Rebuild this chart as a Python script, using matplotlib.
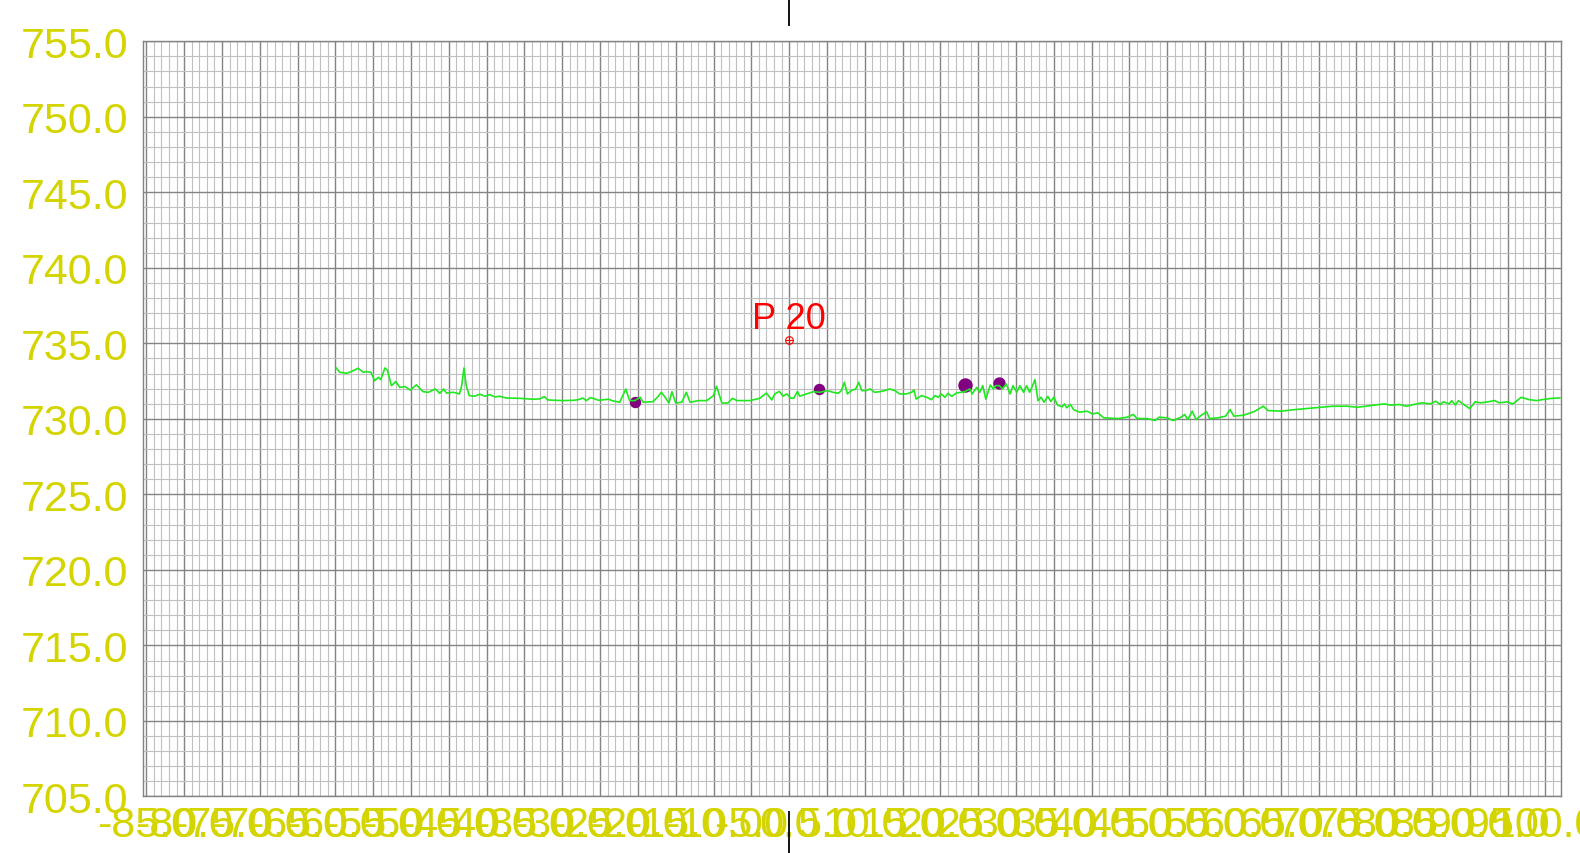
import matplotlib.pyplot as plt
from matplotlib.ticker import MultipleLocator, FormatStrFormatter

# ground profile: station offset (m) and elevation (m)
stations = [
    -59.9, -59.4, -58.5, -57.9, -57.0, -56.3, -55.9, -55.3, -54.8, -54.3, -54.0, -53.45, -53.1,
    -52.6, -52.0, -51.5, -50.8, -50.1, -49.3, -48.4, -47.7, -46.8, -46.2, -45.7, -45.3, -44.4,
    -43.6, -43.3, -43.0, -42.7, -42.3, -41.6, -40.9, -40.2, -39.6, -38.9, -38.3, -37.4, -35.6,
    -33.9, -33.0, -32.4, -31.9, -29.9, -28.5, -27.9, -27.3, -26.8, -26.3, -25.7, -25.2, -24.8,
    -23.9, -23.3, -22.4, -21.6, -21.1, -20.4, -19.7, -19.3, -18.0, -17.3, -16.9, -16.4, -15.9,
    -15.5, -15.0, -14.2, -13.6, -13.1, -12.0, -10.9, -10.0, -9.6, -8.9, -8.1, -7.5, -6.9, -6.1,
    -5.2, -3.9, -3.0, -2.3, -1.9, -1.3, -0.8, -0.3, 0.2, 0.6, 1.1, 1.4,
    2.3, 3.2, 4.1, 5.0, 5.8, 6.5, 6.9, 7.3, 7.7, 8.2, 8.8, 9.2, 9.6, 10.1, 10.7, 11.3, 12.0,
    12.6, 13.3, 14.0, 14.6, 15.5, 16.2, 16.5, 16.8, 17.5, 18.2, 18.8, 19.3, 19.7, 20.1, 20.6,
    21.0, 21.5, 22.1, 23.2, 23.9, 24.2, 24.8, 25.2, 25.6, 26.0, 26.6, 27.0, 27.3, 27.8,
    28.2, 28.7, 29.2, 29.6, 30.1, 30.5, 31.0, 31.4, 31.8, 32.1, 32.5, 32.9, 33.3, 33.7, 34.2,
    34.6, 35.0, 35.5, 36.1, 36.4, 36.7, 37.2, 37.6, 38.4, 39.4, 40.1, 40.8, 41.6, 43.5, 44.7,
    45.5, 46.0, 47.4, 48.4, 48.9, 49.9, 50.8, 51.8, 52.3, 52.7, 53.3, 53.8, 54.5, 55.2, 55.6,
    56.7, 57.7, 58.3, 58.8, 60.1, 61.6, 62.7, 63.3, 65.0, 67.0, 69.4, 71.9, 73.8, 75.1, 76.3,
    77.3, 78.7, 79.5, 80.7, 81.6, 82.6, 83.6, 84.8, 85.5, 86.1, 86.5, 87.3, 87.6, 88.1, 88.5,
    89.2, 90.0, 90.7, 91.4, 92.4, 93.3, 93.9, 94.9, 95.7, 96.8, 97.8, 98.8, 99.7, 100.7, 101.9,
]
elevations = [
    733.37, 733.08, 733.02, 733.13, 733.35, 733.08, 733.13, 733.08, 732.53, 732.75, 732.6, 733.37, 733.2,
    732.2, 732.47, 732.09, 732.13, 731.91, 732.25, 731.8, 731.76, 731.98, 731.69, 731.98, 731.71, 731.76,
    731.65, 732.2, 733.37, 732.2, 731.54, 731.5, 731.63, 731.5, 731.6, 731.45, 731.5, 731.38, 731.36,
    731.3, 731.32, 731.47, 731.25, 731.21, 731.23, 731.27, 731.38, 731.21, 731.41, 731.32, 731.23, 731.25,
    731.3, 731.19, 731.1, 731.98, 731.21, 731.21, 731.43, 731.1, 731.14, 731.5, 731.76, 731.43, 731.05,
    731.8, 731.05, 731.1, 731.76, 731.1, 731.21, 731.21, 731.54, 732.16, 731.05, 731.05, 731.36, 731.21, 731.21,
    731.21, 731.36, 731.71, 731.25, 731.65, 731.82, 731.5, 731.65, 731.38, 731.36, 731.82, 731.5,
    731.65, 731.8, 731.76, 731.87, 731.76, 731.69, 731.87, 732.42, 731.65, 731.87, 731.98, 732.42, 731.87, 731.87, 731.98, 731.76, 731.8,
    731.87, 731.98, 731.87, 731.65, 731.65, 731.76, 731.91, 731.31, 731.54, 731.43, 731.27, 731.54, 731.43, 731.65, 731.43,
    731.69, 731.49, 731.71, 731.8, 731.98, 731.65, 732.09, 731.76, 732.2, 731.31, 732.24, 731.98, 732.2, 732.2,
    731.98, 732.31, 731.65, 732.2, 731.76, 732.2, 731.76, 732.2, 731.76, 732.1, 732.6, 731.2, 731.43, 731.1, 731.49,
    731.15, 731.43, 730.9, 730.8, 730.99, 730.73, 730.95, 730.62, 730.44, 730.51, 730.33, 730.4, 730.07, 730.02, 730.11,
    730.29, 730.02, 730.02, 729.89, 730.11, 730.07, 729.89, 730.11, 730.29, 729.96, 730.51, 729.96, 730.24, 730.46, 730.02,
    730.07, 730.18, 730.62, 730.18, 730.24, 730.51, 730.84, 730.55, 730.51, 730.62, 730.73, 730.84, 730.84, 730.77, 730.84,
    730.91, 730.99, 730.91, 730.95, 730.84, 730.95, 731.06, 730.99, 731.17, 730.95, 731.13, 730.99, 731.21, 730.91, 731.21,
    730.95, 730.68, 731.13, 731.06, 731.13, 731.21, 731.06, 731.13, 730.99, 731.43, 731.28, 731.21, 731.28, 731.35, 731.39,
]

# surveyed points on the profile
point_x = [-20.4, 4.0, 23.2, 27.7]
point_z = [731.1, 731.98, 732.26, 732.38]
point_size = [7.2, 7.2, 9.4, 7.9]

# station mark
mark_name = "P 20"
mark_x = 0.0
mark_z = 735.2

x_min, x_max = -85.4, 102.0
z_min, z_max = 705.0, 755.0

label_color = "#d4d400"
plt.rcParams["font.family"] = ["Liberation Sans", "DejaVu Sans"]

fig = plt.figure(figsize=(15.8, 8.54), dpi=100)
ax = fig.add_axes([0.0907, 0.0662, 0.8970, 0.8843])

ax.set_xlim(x_min, x_max)
ax.set_ylim(z_min, z_max)
ax.xaxis.set_major_locator(MultipleLocator(5))
ax.xaxis.set_minor_locator(MultipleLocator(1))
ax.yaxis.set_major_locator(MultipleLocator(5))
ax.yaxis.set_minor_locator(MultipleLocator(1))
ax.xaxis.set_major_formatter(FormatStrFormatter("%.1f"))
ax.yaxis.set_major_formatter(FormatStrFormatter("%.1f"))
ax.grid(which="major", color="#838383", linewidth=1.0)
ax.grid(which="minor", color="#c0c0c0", linewidth=0.8)
ax.set_axisbelow(True)
ax.tick_params(which="both", length=0, labelsize=31, labelcolor=label_color)
ax.tick_params(axis="y", pad=11)
ax.tick_params(axis="x", pad=6)
for sp in ax.spines.values():
    sp.set_color("#838383")
    sp.set_linewidth(1.0)

for px, pz, s in zip(point_x, point_z, point_size):
    ax.plot(px, pz, "o", color="#800080", markersize=s, zorder=3)
ax.plot(stations, elevations, color="#1ee81e", linewidth=1.2, zorder=4)

# station marker with its name
ax.plot(mark_x, mark_z, "o", markersize=5.5, markerfacecolor="none",
        markeredgecolor="red", markeredgewidth=0.8, zorder=5)
ax.plot(mark_x, mark_z, "+", markersize=5.5, color="red", markeredgewidth=0.8, zorder=5)
ax.annotate(mark_name, (mark_x, mark_z), xytext=(0, 9), textcoords="offset points",
            ha="center", va="baseline", fontsize=26, color="red")

# station line sticking out above and below the frame
tr = ax.get_xaxis_transform()
ax.plot([mark_x, mark_x], [1.022, 1.06], color="#111111", linewidth=1.4,
        transform=tr, clip_on=False, zorder=6)
ax.plot([mark_x, mark_x], [-0.0205, -0.08], color="#111111", linewidth=1.4,
        transform=tr, clip_on=False, zorder=6)

fig.savefig("out.png", dpi=100)
